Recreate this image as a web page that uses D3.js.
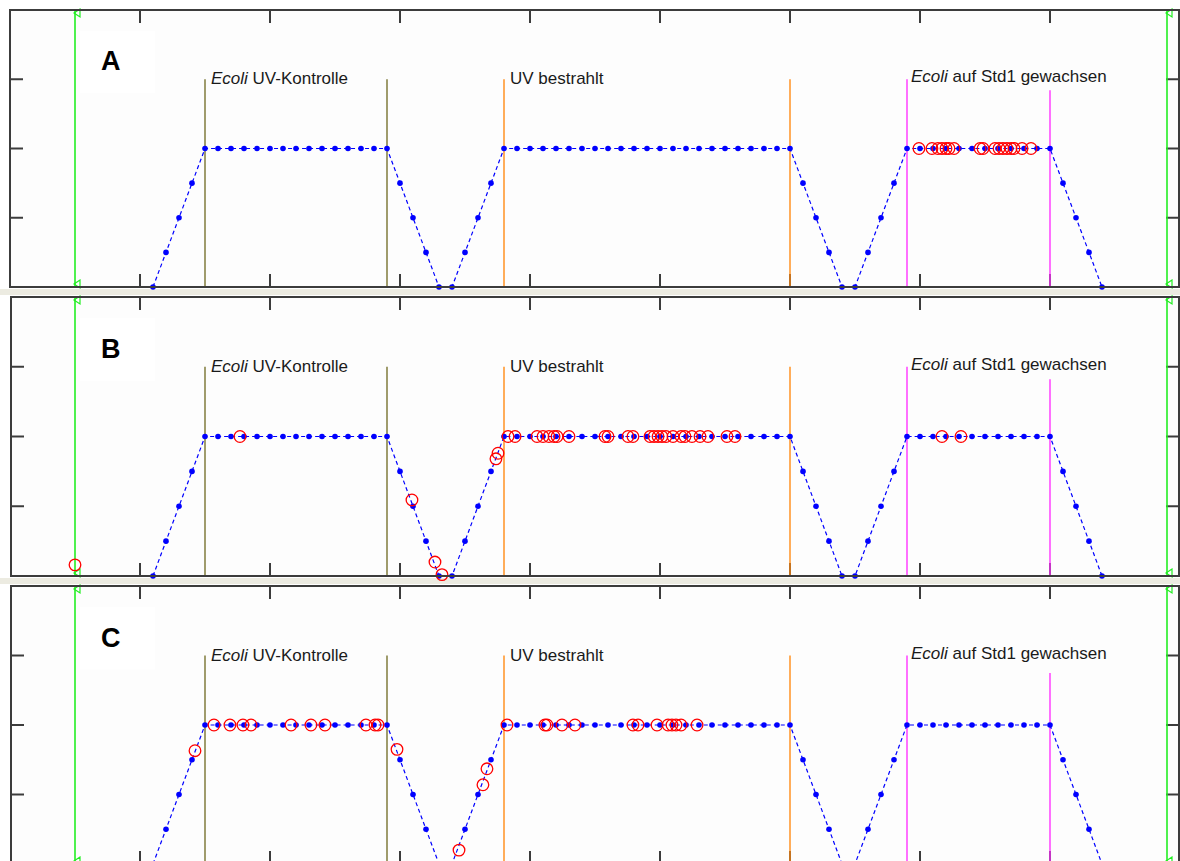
<!DOCTYPE html>
<html>
<head>
<meta charset="utf-8">
<script src="https://cdn.jsdelivr.net/npm/d3@7"></script>
<style>
  body { margin: 0; background: #ffffff; }
  svg { display: block; }
</style>
</head>
<body>
<svg id="chart" width="1180" height="861"></svg>
<script>
// ---- data -------------------------------------------------------------
// trapezoid reference signal, one value per sample (first sample at t = 11)
const signalStart = 11;
const signalY = [
  0, 0.5, 1, 1.5, 2,
  2, 2, 2, 2, 2, 2, 2, 2, 2, 2, 2, 2, 2, 2,
  1.5, 1, 0.5, 0, 0,
  0.5, 1, 1.5, 2,
  2, 2, 2, 2, 2, 2, 2, 2, 2, 2, 2, 2, 2, 2, 2, 2, 2, 2, 2, 2, 2, 2,
  1.5, 1, 0.5, 0, 0,
  0.5, 1, 1.5, 2,
  2, 2, 2, 2, 2, 2, 2, 2, 2, 2, 2,
  1.5, 1, 0.5, 0
];

const panelLetters = ['A', 'B', 'C'];

// red events [t, level] per panel
const eventsA = [
  [69.92, 2], [70.92, 2], [71.38, 2], [71.69, 2], [72.0, 2], [72.23, 2], [72.62, 2],
  [74.62, 2], [74.85, 2], [75.77, 2], [76.08, 2], [76.38, 2], [76.69, 2], [77.0, 2],
  [77.23, 2], [77.85, 2], [78.54, 2]
];
const eventsB = [
  [5.0, 0.16], [17.69, 2], [30.92, 1.09], [32.69, 0.2], [33.23, 0.02], [37.38, 1.68], [37.54, 1.76],
  [38.31, 2], [38.85, 2], [40.54, 2], [41.0, 2], [41.46, 2], [41.85, 2], [42.08, 2], [43.0, 2],
  [45.77, 2], [46.0, 2], [47.54, 2], [47.92, 2], [49.23, 2], [49.54, 2], [49.85, 2], [50.15, 2],
  [50.46, 2], [51.0, 2], [51.62, 2], [51.92, 2], [52.46, 2], [53.08, 2], [53.69, 2], [55.15, 2],
  [55.77, 2], [71.69, 2], [73.15, 2]
];
const eventsC = [
  [14.23, 1.63], [15.69, 2], [16.92, 2], [17.92, 2], [18.54, 2], [21.62, 2], [23.15, 2],
  [24.23, 2], [27.38, 2], [28.08, 2], [28.31, 2], [29.77, 1.65], [34.54, 0.2], [36.38, 1.14],
  [36.69, 1.37], [38.23, 2], [41.15, 2], [41.31, 2], [42.46, 2], [43.46, 2], [47.92, 2],
  [48.31, 2], [49.77, 2], [50.62, 2], [50.92, 2], [51.23, 2], [51.62, 2], [52.85, 2]
];
const panelEvents = [eventsA, eventsB, eventsC];

// condition boundaries (t) and their colours
const boundaryT = [15, 29, 38, 60, 69, 80];
const boundaryColor = ['#77722e', '#77722e', '#ff8a14', '#ff8a14', '#ff33ff', '#ff33ff'];
const lastBoundaryTop = [2.84, 2.82, 2.75];

const conditionLabels = [
  { t: 15, italic: 'Ecoli', rest: ' UV-Kontrolle' },
  { t: 38, italic: '', rest: 'UV bestrahlt' },
  { t: 69, italic: 'Ecoli', rest: ' auf Std1 gewachsen' }
];

const cursorT = [5, 89];          // green cursors
const xTickValues = [10, 20, 30, 40, 50, 60, 70, 80];
const yTickValues = [1, 2, 3];

// ---- layout -------------------------------------------------------------
const svg = d3.select('#chart');
const panels = [
  { top: 10, bottom: 287, left: 10 },
  { top: 297, bottom: 576, left: 11 },
  { top: 586, bottom: 864, left: 11 }
];
const right = 1179;
const x = d3.scaleLinear().domain([0, 90]).range([10, 1180]);

// separator bands between panels
svg.selectAll('rect.band')
  .data([289, 578])
  .join('rect')
  .attr('x', 0).attr('y', (d) => d)
  .attr('width', 1180).attr('height', 6)
  .attr('fill', '#ecebe1');

const signal = signalY.map((v, i) => [signalStart + i, v]);

panels.forEach((p, pi) => {
  const y = d3.scaleLinear().domain([0, 4]).range([p.bottom, p.top]);
  const g = svg.append('g');

  g.append('rect')
    .attr('x', p.left).attr('y', p.top)
    .attr('width', right - p.left).attr('height', p.bottom - p.top)
    .attr('fill', '#fdfdfd');

  // faint box behind the panel letter
  g.append('rect')
    .attr('x', 80).attr('y', y(3.7)).attr('width', 75).attr('height', y(2.8) - y(3.7))
    .attr('fill', '#ffffff');

  // tick marks (inward, all four sides)
  const tickLen = 13;
  const ticks = g.append('g').attr('stroke', '#3c3c3c').attr('stroke-width', 2);
  xTickValues.forEach((t) => {
    ticks.append('line').attr('x1', x(t)).attr('x2', x(t)).attr('y1', p.top).attr('y2', p.top + tickLen);
    ticks.append('line').attr('x1', x(t)).attr('x2', x(t)).attr('y1', p.bottom).attr('y2', p.bottom - tickLen);
  });
  yTickValues.forEach((v) => {
    ticks.append('line').attr('x1', p.left).attr('x2', p.left + tickLen).attr('y1', y(v)).attr('y2', y(v));
    ticks.append('line').attr('x1', right).attr('x2', right - tickLen).attr('y1', y(v)).attr('y2', y(v));
  });

  // condition boundaries
  g.selectAll('line.bound')
    .data(boundaryT)
    .join('line')
    .attr('x1', (d) => x(d)).attr('x2', (d) => x(d))
    .attr('y1', (d, i) => y(i === boundaryT.length - 1 ? lastBoundaryTop[pi] : 3))
    .attr('y2', p.bottom)
    .attr('stroke', (d, i) => boundaryColor[i])
    .attr('stroke-width', 1.4);

  // condition labels
  conditionLabels.forEach((l, li) => {
    const txt = g.append('text')
      .attr('x', x(l.t) + (li === 2 ? 4 : 6))
      .attr('y', y(3) + (li === 2 ? 3 : 5))
      .attr('font-family', 'Liberation Sans, Arial, sans-serif')
      .attr('font-size', '17px')
      .attr('fill', '#1a1a1a');
    if (l.italic) txt.append('tspan').attr('font-style', 'italic').text(l.italic);
    txt.append('tspan').text(l.rest);
  });

  // green cursors
  cursorT.forEach((t) => {
    const cx = x(t);
    g.append('line')
      .attr('x1', cx).attr('x2', cx).attr('y1', p.top).attr('y2', p.bottom)
      .attr('stroke', '#22ee22').attr('stroke-width', 1.6);
    [p.top + 3, p.bottom - 3].forEach((cy) => {
      g.append('path')
        .attr('d', `M${cx + 5},${cy - 4} L${cx - 1},${cy} L${cx + 5},${cy + 4} Z`)
        .attr('fill', 'none').attr('stroke', '#22ee22').attr('stroke-width', 1.2);
    });
  });

  // reference signal
  g.append('path')
    .datum(signal)
    .attr('d', d3.line().x((d) => x(d[0])).y((d) => y(d[1])))
    .attr('fill', 'none')
    .attr('stroke', '#0000ff')
    .attr('stroke-width', 1.2)
    .attr('stroke-dasharray', '4,3');
  g.selectAll('circle.pt')
    .data(signal)
    .join('circle')
    .attr('cx', (d) => x(d[0])).attr('cy', (d) => y(d[1]))
    .attr('r', 2.8)
    .attr('fill', '#0000ff');

  // events
  g.selectAll('circle.ev')
    .data(panelEvents[pi])
    .join('circle')
    .attr('cx', (d) => x(d[0])).attr('cy', (d) => y(d[1]))
    .attr('r', 5.8)
    .attr('fill', 'none')
    .attr('stroke', '#ff0000')
    .attr('stroke-width', 1.3);

  // frame
  g.append('rect')
    .attr('x', p.left).attr('y', p.top)
    .attr('width', right - p.left).attr('height', p.bottom - p.top)
    .attr('fill', 'none').attr('stroke', '#3c3c3c').attr('stroke-width', 2);

  // panel letter
  g.append('text')
    .attr('x', 101).attr('y', y(3) - 9)
    .attr('font-family', 'Liberation Sans, Arial, sans-serif')
    .attr('font-weight', 'bold')
    .attr('font-size', '27px')
    .attr('fill', '#000')
    .text(panelLetters[pi]);
});
</script>
</body>
</html>
